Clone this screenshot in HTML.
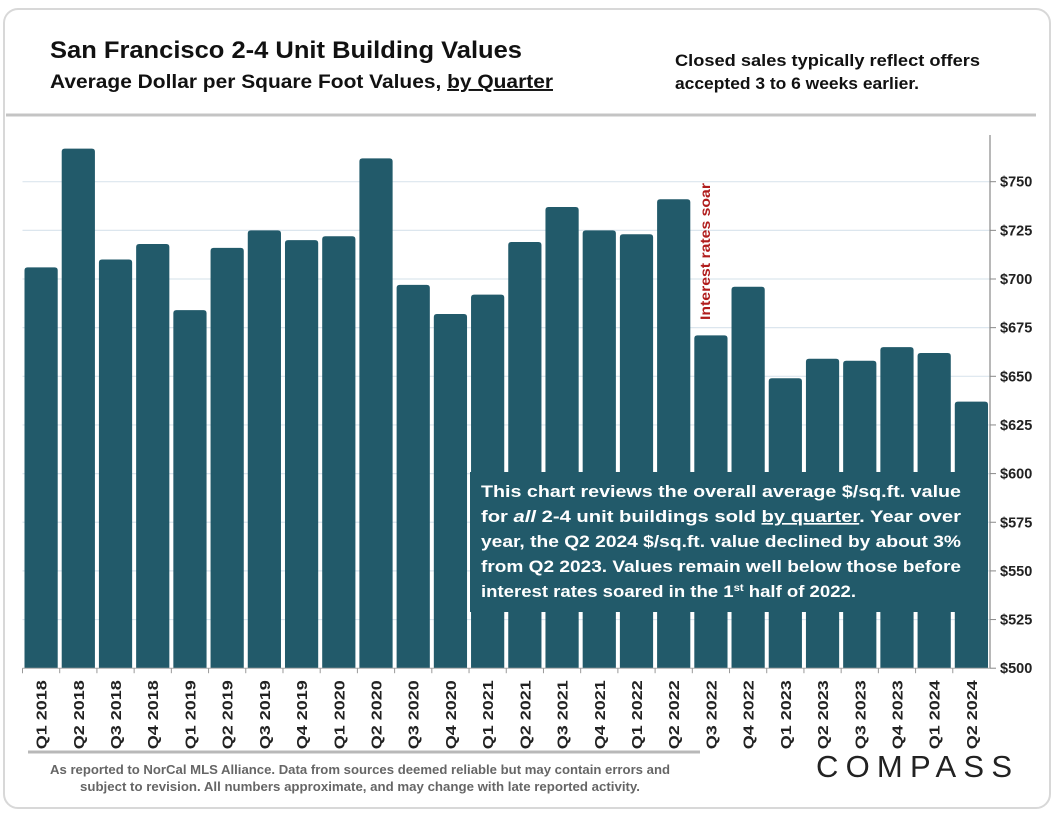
<!DOCTYPE html>
<html><head><meta charset="utf-8">
<style>
body{margin:0;background:#fff;width:1056px;height:816px;overflow:hidden;font-family:"Liberation Sans",sans-serif;}
svg{display:block}
</style></head>
<body>
<svg width="1056" height="816" viewBox="0 0 1056 816">
<rect x="4" y="9" width="1046" height="799" rx="14" fill="#fff" stroke="#d8d8d8" stroke-width="2"/>
<text x="50" y="58" font-size="24.5" font-weight="bold" fill="#111" textLength="472" lengthAdjust="spacingAndGlyphs">San Francisco 2-4 Unit Building Values</text>
<text x="50" y="88" font-size="19.5" font-weight="bold" fill="#111" textLength="503" lengthAdjust="spacingAndGlyphs">Average Dollar per Square Foot Values, <tspan text-decoration="underline">by Quarter</tspan></text>
<text x="675" y="66" font-size="16.5" font-weight="bold" fill="#111" textLength="305" lengthAdjust="spacingAndGlyphs">Closed sales typically reflect offers</text>
<text x="675" y="89" font-size="16.5" font-weight="bold" fill="#111" textLength="244" lengthAdjust="spacingAndGlyphs">accepted 3 to 6 weeks earlier.</text>
<line x1="6" y1="115" x2="1036" y2="115" stroke="#c4c4c4" stroke-width="3"/>
<g id="grid"></g>
<g id="bars"></g>
<g id="axis"></g>
<text transform="translate(710,320) rotate(-90)" font-size="14" font-weight="bold" fill="#b01c1c" textLength="137" lengthAdjust="spacingAndGlyphs">Interest rates soar</text>
<rect x="470" y="472" width="502" height="140" fill="#225a6a"/>
<g font-size="16.5" font-weight="bold" fill="#fff">
<text x="481" y="497" textLength="480" lengthAdjust="spacingAndGlyphs">This chart reviews the overall average $/sq.ft. value</text>
<text x="481" y="522" textLength="480" lengthAdjust="spacingAndGlyphs">for <tspan font-style="italic">all</tspan> 2-4 unit buildings sold <tspan text-decoration="underline">by quarter</tspan>. Year over</text>
<text x="481" y="547" textLength="480" lengthAdjust="spacingAndGlyphs">year, the Q2 2024 $/sq.ft. value declined by about 3%</text>
<text x="481" y="572" textLength="480" lengthAdjust="spacingAndGlyphs">from Q2 2023. Values remain well below those before</text>
<text x="481" y="597" textLength="375" lengthAdjust="spacingAndGlyphs">interest rates soared in the 1<tspan font-size="10" dy="-6">st</tspan><tspan dy="6"> half of 2022.</tspan></text>
</g>
<line x1="28" y1="752" x2="700" y2="752" stroke="#b8b8b8" stroke-width="3"/>
<text x="360" y="774" font-size="13" font-weight="bold" fill="#666" text-anchor="middle" textLength="620" lengthAdjust="spacingAndGlyphs">As reported to NorCal MLS Alliance. Data from sources deemed reliable but may contain errors and</text>
<text x="360" y="791" font-size="13" font-weight="bold" fill="#666" text-anchor="middle" textLength="560" lengthAdjust="spacingAndGlyphs">subject to revision. All numbers approximate, and may change with late reported activity.</text>
<text x="914" y="777" font-size="31" fill="#222" text-anchor="middle" textLength="196" lengthAdjust="spacing">COMPASS</text>
</svg>
<script>
const categories=["Q1 2018","Q2 2018","Q3 2018","Q4 2018","Q1 2019","Q2 2019","Q3 2019","Q4 2019","Q1 2020","Q2 2020","Q3 2020","Q4 2020","Q1 2021","Q2 2021","Q3 2021","Q4 2021","Q1 2022","Q2 2022","Q3 2022","Q4 2022","Q1 2023","Q2 2023","Q3 2023","Q4 2023","Q1 2024","Q2 2024"];
const values=[706,767,710,718,684,716,725,720,722,762,697,682,692,719,737,725,723,741,671,696,649,659,658,665,662,637];
const yTicks=[500,525,550,575,600,625,650,675,700,725,750];
const tickLabels=["$500","$525","$550","$575","$600","$625","$650","$675","$700","$725","$750"];
const NS="http://www.w3.org/2000/svg";
const X0=22.5,X1=990,Y0=668.2,PXU=1.946;
const band=(X1-X0)/categories.length;
function xPos(i){return X0+i*band;}
function yPos(v){return Y0-(v-500)*PXU;}
function mk(tag,attrs,parent){const e=document.createElementNS(NS,tag);for(const k in attrs)e.setAttribute(k,attrs[k]);parent.appendChild(e);return e;}
const grid=document.getElementById('grid'),bars=document.getElementById('bars'),axis=document.getElementById('axis');
yTicks.forEach((t,i)=>{
  const y=yPos(t);
  if(t>500){const g=mk('line',{x1:X0,x2:X1,y1:y,y2:y,stroke:'#dce6ee','stroke-width':1.2},grid);
  
  }
  const tk=mk('line',{x1:X1,x2:X1+6,y1:y,y2:y,stroke:'#888','stroke-width':1},axis);
  
  
  const lb=mk('text',{x:X1+10,y:y+5,'font-size':14.5,'font-weight':'bold',fill:'#222'},axis);
  lb.textContent=tickLabels[i];
  
  
});
const ax=mk('line',{x1:X1,x2:X1,y1:135,y2:Y0,stroke:'#888','stroke-width':1.2},axis);


const bx=mk('line',{x1:X0,x2:X1,y1:Y0,y2:Y0,stroke:'#aaa','stroke-width':1},axis);


categories.forEach((c,i)=>{
  const x=xPos(i),y=yPos(values[i]);
  const r=mk('path',{d:`M${x+2} ${Y0}V${y+3}Q${x+2} ${y} ${x+5} ${y}H${x+band-5}Q${x+band-2} ${y} ${x+band-2} ${y+3}V${Y0}Z`,fill:'#225a6a'},bars);
  
  
  const tk=mk('line',{x1:x,x2:x,y1:Y0,y2:Y0+5,stroke:'#999','stroke-width':1},axis);
  
  
  const lb=mk('text',{transform:`translate(${x+band/2+5.5},${Y0+12}) rotate(-90)`,'font-size':15,'font-weight':'bold',fill:'#222','text-anchor':'end',textLength:69,lengthAdjust:'spacingAndGlyphs'},axis);
  lb.textContent=c;
  
  
});
</script>
</body></html>
